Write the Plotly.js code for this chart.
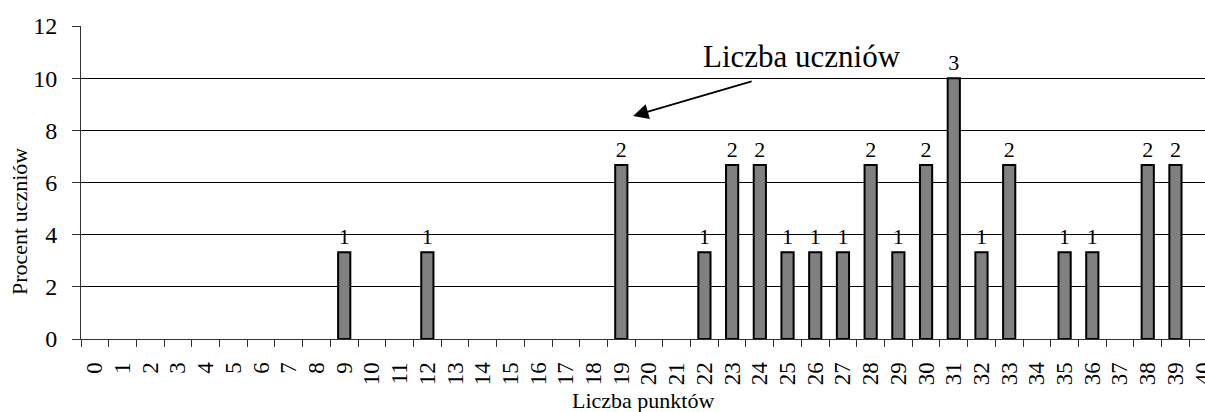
<!DOCTYPE html>
<html>
<head>
<meta charset="utf-8">
<script src="https://cdn.plot.ly/plotly-3.0.1.min.js"></script>
<style>
  html, body { margin: 0; padding: 0; overflow: hidden; background: #fff; }
  #chart { width: 1217px; height: 412px; }
</style>
</head>
<body>
<div id="chart"></div>
<script>
// All score categories on the axis (Liczba punktów)
const categories = ['0','1','2','3','4','5','6','7','8','9','10','11','12','13','14','15','16','17','18','19','20',
                    '21','22','23','24','25','26','27','28','29','30','31','32','33','34','35','36','37','38','39','40'];
// Scores that have students
const scores = ['9','12','19','22','23','24','25','26','27','28','29','30','31','32','33','35','36','38','39'];
// Percent of students (Procent uczniów)
const percents = [3.33, 3.33, 6.67, 3.33, 6.67, 6.67, 3.33, 3.33, 3.33, 6.67, 3.33, 6.67, 10, 3.33, 6.67, 3.33, 3.33, 6.67, 6.67];
// Number of students (Liczba uczniów) shown above bars
const counts = [1, 1, 2, 1, 2, 2, 1, 1, 1, 2, 1, 2, 3, 1, 2, 1, 1, 2, 2];
const yTicks = [0, 2, 4, 6, 8, 10, 12];

const FONT = 'Liberation Serif';

const trace = {
  type: 'bar',
  x: scores,
  y: percents,
  text: counts.map(String),
  textposition: 'outside',
  textfont: { family: FONT, size: 22, color: '#000' },
  cliponaxis: false,
  marker: { color: '#808080', line: { color: '#000', width: 2 } },
  hoverinfo: 'none'
};

const layout = {
  width: 1217,
  height: 412,
  margin: { l: 81, r: 0, t: 26, b: 73 },
  paper_bgcolor: '#fff',
  plot_bgcolor: '#fff',
  showlegend: false,
  bargap: 0.56,
  font: { family: FONT, color: '#000' },
  xaxis: {
    type: 'category',
    categoryorder: 'array',
    categoryarray: categories,
    range: [-0.5, 40.5],
    tickmode: 'linear',
    tick0: 0,
    dtick: 1,
    tickson: 'boundaries',
    ticks: 'outside',
    ticklen: 7,
    tickcolor: '#333',
    tickangle: -90,
    ticklabelstandoff: 13,
    tickfont: { family: FONT, size: 23, color: '#000' },
    showgrid: false,
    showline: true,
    linecolor: '#333',
    linewidth: 1,
    zeroline: false,
    fixedrange: true,
    automargin: false
  },
  yaxis: {
    range: [0, 12],
    tickvals: yTicks,
    ticktext: yTicks.map(String),
    ticks: 'outside',
    ticklen: 8,
    tickcolor: '#333',
    ticklabelstandoff: 10,
    tickfont: { family: FONT, size: 24, color: '#000' },
    showgrid: true,
    gridcolor: '#000',
    gridwidth: 1,
    showline: true,
    linecolor: '#333',
    linewidth: 1,
    zeroline: false,
    fixedrange: true,
    automargin: false
  },
  annotations: [
    {
      xref: 'paper', yref: 'y',
      x: 0.486, y: 8.55,
      ax: 120, ay: -35,
      text: '',
      showarrow: true,
      arrowhead: 2,
      arrowsize: 1.7,
      arrowwidth: 1.8,
      arrowcolor: '#000'
    },
    {
      xref: 'paper', yref: 'y',
      x: 0.635, y: 10.85,
      xanchor: 'center', yanchor: 'middle',
      text: 'Liczba uczniów',
      showarrow: false,
      font: { family: FONT, size: 31, color: '#000' }
    },
    {
      xref: 'paper', yref: 'paper',
      x: (643 - 81) / 1136, y: (339 - 401) / 313,
      xanchor: 'center', yanchor: 'middle',
      text: 'Liczba punktów',
      showarrow: false,
      font: { family: FONT, size: 22, color: '#000' }
    },
    {
      xref: 'paper', yref: 'paper',
      x: (20 - 81) / 1136, y: (339 - 222) / 313,
      xanchor: 'center', yanchor: 'middle',
      text: 'Procent uczniów',
      textangle: -90,
      showarrow: false,
      font: { family: FONT, size: 22, color: '#000' }
    }
  ]
};

Plotly.newPlot('chart', [trace], layout, { staticPlot: true, displayModeBar: false });
</script>
</body>
</html>
